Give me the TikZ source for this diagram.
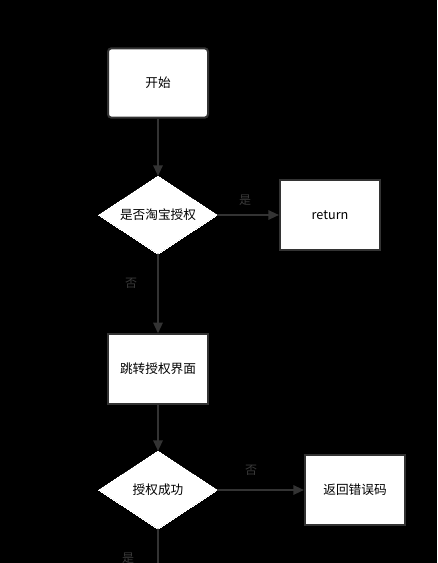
\documentclass[tikz,border=0pt]{standalone}
\usepackage{fontspec}
\setmainfont{Noto Sans CJK SC}
\usetikzlibrary{shapes.geometric,arrows.meta}
\definecolor{edgegray}{HTML}{333333}
\definecolor{labgray}{HTML}{3A3A3A}
\tikzset{
  box/.style={draw=edgegray, line width=1.5pt, fill=white, minimum width=75pt, minimum height=52pt, inner sep=0pt, font=\fontsize{9.5}{11}\selectfont},
  roundbox/.style={box, rounded corners=2.5pt},
  decide/.style={diamond, draw=white, fill=white, line width=0pt, minimum width=89pt, minimum height=58.5pt, inner sep=0pt, aspect=1.52, font=\fontsize{9.5}{11}\selectfont},
  conn/.style={draw=edgegray, line width=1.5pt, -{Triangle[length=8pt,width=7pt]}},
  plain/.style={draw=edgegray, line width=1.5pt},
  lab/.style={text=labgray, font=\fontsize{9}{10}\selectfont, inner sep=0pt}
}
\begin{document}
\begin{tikzpicture}[x=0.75pt,y=-0.75pt]
\useasboundingbox (0,0) rectangle (437,563);
\fill[black] (0,0) rectangle (437,563);
\begin{scope}
\clip (0,0) rectangle (437,563);
\node[roundbox] (start) at (158,83) {开始};
\node[decide] (d1) at (158,215) {是否淘宝授权};
\node[box] (ret) at (330,215) {return};
\node[box] (jump) at (158,369) {跳转授权界面};
\node[decide] (d2) at (158,490) {授权成功};
\node[box] (err) at (355,490) {返回错误码};
\coordinate (bottom) at (158,566);
\draw[conn] (start) -- (d1);
\draw[conn] (d1) -- (ret);
\draw[conn] (d1) -- (jump);
\draw[conn] (jump) -- (d2);
\draw[conn] (d2) -- (err);
\draw[plain] (d2) -- (bottom);
\node[lab] (l1) at (245,200) {是};
\node[lab] (l2) at (131,283) {否};
\node[lab] (l3) at (251,470) {否};
\node[lab] (l4) at (128,558) {是};
\end{scope}
\end{tikzpicture}
\end{document}
